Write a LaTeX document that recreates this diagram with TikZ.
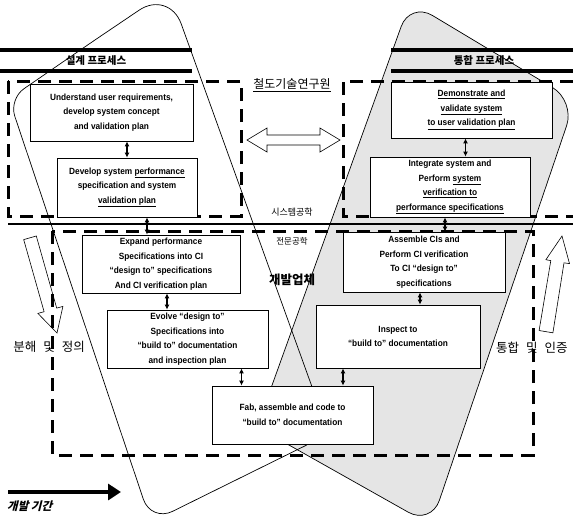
\documentclass[tikz,border=0pt]{standalone}
\usepackage{fontspec}
\setmainfont{Liberation Sans}
\newfontfamily\boxfont[FakeStretch=0.92]{Liberation Sans}
\newfontfamily\kr{Noto Sans CJK KR}
\newfontfamily\krsl[FakeSlant=0.25]{Noto Sans CJK KR}
\usetikzlibrary{arrows.meta}
\begin{document}
\begin{tikzpicture}[x=1pt,y=-1pt,
  box/.style={draw=black, line width=0.8pt, fill=white, align=center, inner sep=0pt,
    font=\boxfont\bfseries\fontsize{9}{14.5}\selectfont},
  dbox/.style={dash pattern=on 13pt off 8pt, line width=3pt},
  link/.style={line width=1.3pt, {Latex[length=5pt,width=5pt]}-{Latex[length=5pt,width=5pt]}},
  leaf/.style={line width=0.7pt},
  band/.style={line width=3.2pt},
  blockarrow/.style={draw, line width=0.6pt, fill=white, line join=miter},
  krlabel/.style={font=\kr\fontsize{#1}{#1}\selectfont, inner sep=0pt},
  krbold/.style={font=\kr\bfseries\fontsize{#1}{#1}\selectfont, inner sep=0pt}
]
\useasboundingbox (0,0) rectangle (573,515);

% right leaf (stippled)
\path[leaf, fill=black!10, draw, rounded corners=26pt]
  (490,50) -- (575,101) -- (431,525) -- (257,427) -- (410,2) -- cycle;
% left leaf (outline)
\draw[leaf, rounded corners=36pt]
  (89,44) -- (169,-10) [rounded corners=26pt] -- (329,434) [rounded corners=24pt] -- (151,522) [rounded corners=18pt] -- (9,99) -- cycle;

% block arrows
\draw[blockarrow] (36.3,236) -- (56.7,308.1) -- (62.9,306.4) -- (57,333) -- (37.9,313.4) -- (44.1,311.7) -- (23.7,239.6) -- cycle;
\draw[blockarrow] (552.9,332.8) -- (564,262.8) -- (569.5,263.6) -- (562,236) -- (545.9,259.7) -- (550.8,260.6) -- (539.1,330.5) -- cycle;

% header bands
\draw[band] (0,50) -- (192,50);
\draw[band] (0,71) -- (192,71);
\node[krbold=10.5] (hl) at (96,61) {설계 프로세스};
\draw[band] (391,50) -- (573,50);
\draw[band] (391,71) -- (573,71);
\node[krbold=10.5] (hr) at (484,61) {통합 프로세스};

% dashed regions
\draw[dbox] (8,81) rectangle (241,216);
\draw[dbox] (573,81) -- (343,81) -- (343,216) -- (573,216);
\draw[dbox] (52,231) rectangle (533,455);
\draw[line width=2.6pt] (8,224) -- (573,224);

% double block arrow
\draw[blockarrow] (247,140) -- (267,128) -- (267,135) -- (320,135) -- (320,128) -- (340,140)
  -- (320,152) -- (320,145) -- (267,145) -- (267,152) -- cycle;

% boxes
\node[box, minimum width=163pt, minimum height=57pt] (b1) at (111.5,112.5)
  {Understand user requirements,\\ develop system concept\\ and validation plan};
\node[box, minimum width=140pt, minimum height=59pt] (b2) at (127,187.5)
  {Develop system \underline{performance}\\ specification and system\\ \underline{validation plan}};
\node[box, minimum width=161pt, minimum height=56pt] (b3) at (471.5,110)
  {\underline{Demonstrate and}\\ \underline{validate system}\\ \underline{to user validation plan}};
\node[box, minimum width=160pt, minimum height=60pt] (b4) at (450,187)
  {Integrate system and\\ Perform \underline{system}\\ \underline{verification to}\\ \underline{performance specifications}};
\node[box, minimum width=158pt, minimum height=58pt] (b5) at (161,264)
  {Expand performance\\ Specifications into CI\\ “design to” specifications\\ And CI verification plan};
\node[box, minimum width=161pt, minimum height=58pt] (b6) at (187.5,339)
  {Evolve “design to”\\ Specifications into\\ “build to” documentation\\ and inspection plan};
\node[box, minimum width=162pt, minimum height=60pt] (b7) at (424,262)
  {Assemble CIs and\\ Perform CI verification\\ To CI “design to”\\ specifications};
\node[box, minimum width=164pt, minimum height=63pt] (b8) at (398,336.5)
  {Inspect to\\ “build to” documentation};
\node[box, minimum width=161pt, minimum height=58pt] (b9) at (292.5,415)
  {Fab, assemble and code to\\ “build to” documentation};

% connectors
\draw[link] (b2.north |- b1.south) -- (b2.north);
\draw[link] ([xshift=-6pt]b3.south) -- ([xshift=-6pt]b3.south |- b4.north);
\draw[link] ([xshift=20pt]b2.south) -- ([xshift=20pt]b2.south |- b5.north);
\draw[link] ([xshift=-5pt]b4.south) -- ([xshift=-5pt]b4.south |- b7.north);
\draw[link] ([xshift=6pt]b5.south) -- ([xshift=6pt]b5.south |- b6.north);
\draw[link] ([xshift=-4pt]b7.south) -- ([xshift=-4pt]b7.south |- b8.north);
\draw[link] ([xshift=54pt]b6.south) -- ([xshift=54pt]b6.south |- b9.north);
\draw[link] ([xshift=-55pt]b8.south) -- ([xshift=-55pt]b8.south |- b9.north);

% labels
\node[krlabel=12] (org) at (292,85) {\underline{철도기술연구원}};
\node[krlabel=9] (se) at (292,212) {시스템공학};
\node[krlabel=8.5] (sp) at (292,241) {전문공학};
\node[krbold=12.5] (dev) at (292,280) {개발업체};
\node[krlabel=12.5] (dec) at (49,347) {분해\kern7pt 및\kern7pt 정의};
\node[krlabel=12.5, anchor=west] (integ) at (496,348) {통합\kern7pt 및\kern7pt 인증};

% development period
\coordinate (ds) at (8,492);
\coordinate (de) at (121,492);
\draw[line width=4pt, -{Triangle[length=13pt,width=16pt]}] (ds) -- (de);
\node[font=\krsl\bfseries\fontsize{11.5}{12}\selectfont, anchor=west, inner sep=0pt] (per) at (7,506) {개발 기간};
\end{tikzpicture}
\end{document}
